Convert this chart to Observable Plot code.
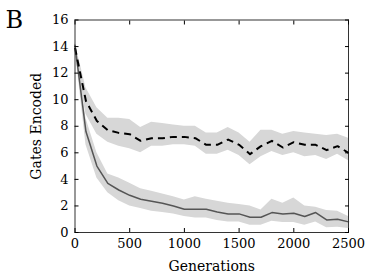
<!DOCTYPE html>
<html>
<head>
<meta charset="utf-8">
<script src="https://cdn.jsdelivr.net/npm/d3@7"></script>
<script src="https://cdn.jsdelivr.net/npm/@observablehq/plot@0.6"></script>
<style>
  html, body { margin: 0; padding: 0; background: #fff; }
  #chart { width: 374px; height: 277px; }
</style>
</head>
<body>
<div id="chart"></div>
<script>
const generations = [0, 100, 200, 300, 400, 500, 600, 700, 800, 900, 1000, 1100, 1200, 1300, 1400, 1500, 1600, 1700, 1800, 1900, 2000, 2100, 2200, 2300, 2400, 2500];

const dashedMean = [13.9, 9.9, 8.4, 7.7, 7.5, 7.4, 6.9, 7.1, 7.1, 7.2, 7.2, 7.1, 6.6, 6.6, 7.0, 6.6, 5.9, 6.5, 6.9, 6.4, 6.8, 6.6, 6.6, 6.2, 6.5, 6.0];
const dashedHigh = [14.3, 10.9, 9.4, 8.6, 8.6, 8.5, 7.9, 8.3, 8.2, 8.1, 8.0, 8.0, 7.5, 7.5, 7.9, 7.5, 6.8, 7.7, 7.7, 7.4, 7.6, 7.5, 7.4, 7.3, 7.4, 7.1];
const dashedLow  = [13.5, 8.9, 7.4, 6.8, 6.5, 6.3, 6.0, 6.5, 6.5, 6.6, 6.6, 6.5, 5.9, 5.9, 6.2, 5.8, 5.1, 5.7, 6.1, 5.8, 6.0, 5.7, 5.8, 5.5, 5.9, 5.4];

const solidMean = [14.1, 7.6, 5.0, 3.7, 3.2, 2.8, 2.5, 2.35, 2.2, 2.0, 1.75, 1.75, 1.75, 1.55, 1.4, 1.4, 1.15, 1.15, 1.5, 1.4, 1.45, 1.2, 1.5, 0.95, 1.0, 0.8];
const solidHigh = [14.3, 8.6, 6.0, 4.4, 4.1, 3.7, 3.3, 3.1, 2.9, 2.7, 2.45, 2.7, 2.5, 2.35, 2.2, 2.1, 2.0, 1.7, 2.5, 2.2, 2.6, 2.0, 1.9, 1.65, 1.6, 1.2];
const solidLow  = [13.9, 6.6, 4.1, 3.0, 2.4, 2.0, 1.8, 1.6, 1.5, 1.4, 1.2, 1.1, 1.1, 0.9, 0.8, 0.8, 0.55, 0.55, 0.85, 0.75, 0.75, 0.55, 0.8, 0.35, 0.4, 0.3];

const xTicks = [0, 500, 1000, 1500, 2000, 2500];
const yTicks = [0, 2, 4, 6, 8, 10, 12, 14, 16];

const panelLabel = "B";
const xLabel = "Generations";
const yLabel = "Gates Encoded";

const data = generations.map((g, i) => ({
  g,
  dMean: dashedMean[i], dHigh: dashedHigh[i], dLow: dashedLow[i],
  sMean: solidMean[i], sHigh: solidHigh[i], sLow: solidLow[i]
}));

const band = "#d7d7d7";
const fmt = d => String(d);

const chart = Plot.plot({
  width: 374,
  height: 277,
  marginLeft: 74.5,
  marginRight: 26,
  marginTop: 19.5,
  marginBottom: 45,
  style: { fontFamily: "DejaVu Serif", fontSize: "13px", color: "#000", background: "#fff" },
  x: { domain: [0, 2500] },
  y: { domain: [0, 16] },
  marks: [
    Plot.areaY(data, { x: "g", y1: "dLow", y2: "dHigh", fill: band }),
    Plot.areaY(data, { x: "g", y1: "sLow", y2: "sHigh", fill: band }),
    Plot.lineY(data, { x: "g", y: "sMean", stroke: "#555", strokeWidth: 1.5 }),
    Plot.lineY(data, { x: "g", y: "dMean", stroke: "#000", strokeWidth: 2, strokeDasharray: "7,5", strokeLinecap: "butt" }),
    Plot.frame({ stroke: "#333" }),
    Plot.axisX({ ticks: xTicks, tickFormat: fmt, tickSize: -4, tickPadding: 10, label: null }),
    Plot.axisX({ anchor: "top", ticks: xTicks, tickSize: -4, fill: "none", label: null }),
    Plot.axisY({ ticks: yTicks, tickFormat: fmt, tickSize: -4, tickPadding: 10.5, label: null }),
    Plot.axisY({ anchor: "right", ticks: yTicks, tickSize: -4, fill: "none", label: null }),
    Plot.text([xLabel], { frameAnchor: "bottom", text: d => d, dy: 29, textAnchor: "middle", lineAnchor: "top", fontSize: 14 }),
    Plot.text([yLabel], { frameAnchor: "left", text: d => d, dx: -38, rotate: -90, textAnchor: "middle", lineAnchor: "middle", fontSize: 14 }),
    Plot.text([panelLabel], { frameAnchor: "top-left", text: d => d, dx: -69.5, dy: -9.5, textAnchor: "start", lineAnchor: "top", fontSize: 24 })
  ]
});

document.getElementById("chart").appendChild(chart);
</script>
</body>
</html>
